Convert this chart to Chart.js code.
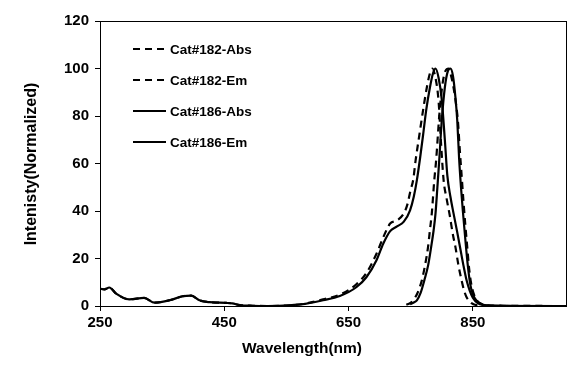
<!DOCTYPE html>
<html>
<head>
<meta charset="utf-8">
<script src="https://cdn.jsdelivr.net/npm/chart.js@4/dist/chart.umd.min.js"></script>
<style>
  html, body { margin:0; padding:0; background:#fff; }
  #wrap { width:587px; height:367px; position:relative; }
</style>
</head>
<body>
<div id="wrap"><canvas id="grafico"></canvas></div>
<script>
// series labels
const seriesLabels = ["Cat#182-Abs", "Cat#182-Em", "Cat#186-Abs", "Cat#186-Em"];

// Cat#182 absorbance (dashed)
const abs182Nm  = [250,257,265,276,297,321,338,362,383,397,410,426,453,463,475,496,520,555,580,609,636,663,679,695,706,717,728,739,745,750,754,758,764,770,776,781,785,790,795,799,803,808,813,818,822,827,832,836,840,848,858,875,920,1000];
const abs182Val = [7.3,7.0,7.8,5.2,2.8,3.4,1.4,2.4,4.1,4.4,2.4,1.6,1.3,1.1,0.4,0.1,0.0,0.3,1.0,2.8,4.8,9.2,14,22,29,34.7,36,39,43,49,53,61.4,72,82.5,92,98,100,96,86,68,53,45,38,30,24.9,17,10.8,6.5,3.7,1.2,0.3,0.1,0,0];

// Cat#182 emission (dashed)
const em182Nm  = [743,749,754,761,768,773,778,781,784,788,791,796,801,806,811,815,819,823,826,829,832,835,838,841,844,847,851,856,865,880,1000];
const em182Val = [0.5,1.2,2.4,5.5,10.8,17,24.9,32,39,53,61.4,80,93,99,100,97,92,85,78,66,55,44,34,25,16,10,5.5,2.5,0.8,0.2,0];

// Cat#186 absorbance (solid)
const abs186Nm  = [250,257,265,276,297,321,338,362,383,397,410,426,453,463,475,496,520,555,580,609,636,663,679,695,706,717,728,739,749,755,760,765,770,775,781,786,790,795,800,805,809,814,819,825,830,835,840,845,850,858,870,885,920,1000];
const abs186Val = [7.3,7.0,7.8,5.2,2.8,3.4,1.4,2.4,4.1,4.4,2.4,1.6,1.3,1.1,0.4,0.1,0.0,0.3,0.9,2.4,4.2,8.0,12.2,19.3,26.3,31.5,33.5,35.5,40.3,46,53,62,72,82.5,92,98,100,96,87,70,55,46,39,31,24,17,10.8,6.5,3.5,1.2,0.3,0.1,0,0];

// Cat#186 emission (solid)
const em186Nm  = [749,755,760,766,772,778,783,787,790,793,796,800,805,810,814,818,822,825,828,831,834,838,842,846,850,856,865,880,1000];
const em186Val = [0.7,1.5,2.4,5.5,10.8,17,24.9,32,39,50,61.4,78,92,99,100,97,88,78,62,50,40,28,17,9,5,2.2,0.6,0.1,0];

// axis ticks
const xTicks = [250, 450, 650, 850];
const yTicks = [0, 20, 40, 60, 80, 100, 120];

const FONT = "'Liberation Sans', Arial, sans-serif";

function toPoints(xs, ys) {
  return xs.map((x, i) => ({ x, y: ys[i] }));
}

function serie(label, xs, ys, dashed) {
  return {
    label,
    data: toPoints(xs, ys),
    borderColor: "#000",
    backgroundColor: "#000",
    borderWidth: 2.2,
    borderDash: dashed ? [7, 5] : [],
    pointRadius: 0,
    cubicInterpolationMode: "monotone",
    fill: false
  };
}

const datasets = [
  serie(seriesLabels[0], abs182Nm, abs182Val, true),
  serie(seriesLabels[1], em182Nm, em182Val, true),
  serie(seriesLabels[2], abs186Nm, abs186Val, false),
  serie(seriesLabels[3], em186Nm, em186Val, false)
];

// frame, legend and axis titles
const extras = {
  id: "extras",
  afterDraw(chart) {
    const ctx = chart.ctx;
    const a = chart.chartArea;
    ctx.save();
    ctx.strokeStyle = "#000";
    ctx.lineWidth = 1;
    ctx.strokeRect(Math.round(a.left) + 0.5, Math.round(a.top) + 0.5, Math.round(a.right - a.left), Math.round(a.bottom - a.top));

    // legend inside plot
    ctx.font = "bold 13.5px " + FONT;
    ctx.textBaseline = "middle";
    ctx.fillStyle = "#000";
    chart.data.datasets.forEach((ds, i) => {
      const y = 49 + i * 31;
      ctx.beginPath();
      ctx.lineWidth = 2;
      ctx.setLineDash(ds.borderDash);
      ctx.moveTo(133, y);
      ctx.lineTo(166, y);
      ctx.stroke();
      ctx.setLineDash([]);
      ctx.textAlign = "left";
      ctx.fillText(ds.label, 170, y + 1);
    });

    // axis titles
    ctx.textAlign = "center";
    ctx.textBaseline = "alphabetic";
    ctx.font = "bold 15.5px " + FONT;
    ctx.fillText("Wavelength(nm)", 302, 353);
    ctx.font = "bold 16px " + FONT;
    ctx.translate(36, 164);
    ctx.rotate(-Math.PI / 2);
    ctx.fillText("Intenisty(Normalized)", 0, 0);
    ctx.restore();
  }
};

new Chart(document.getElementById("grafico").getContext("2d"), {
  type: "line",
  data: { datasets },
  options: {
    responsive: true,
    maintainAspectRatio: false,
    animation: false,
    layout: { padding: { top: 21, right: 21, left: 0, bottom: 0 } },
    plugins: { legend: { display: false }, tooltip: { enabled: false } },
    scales: {
      x: {
        type: "linear",
        min: 250, max: 1000,
        afterBuildTicks: s => { s.ticks = xTicks.map(v => ({ value: v })); },
        afterFit: s => { s.height = 61; },
        grid: { drawOnChartArea: false, tickLength: 5, color: "#000" },
        border: { color: "#000", width: 1 },
        ticks: { color: "#000", font: { family: FONT, size: 15, weight: "bold" }, padding: 3, maxRotation: 0 }
      },
      y: {
        min: 0, max: 120,
        afterBuildTicks: s => { s.ticks = yTicks.map(v => ({ value: v })); },
        afterFit: s => { s.width = 100; },
        grid: { drawOnChartArea: false, tickLength: 5, color: "#000" },
        border: { color: "#000", width: 1 },
        ticks: { color: "#000", font: { family: FONT, size: 15, weight: "bold" }, padding: 6 }
      }
    }
  },
  plugins: [extras]
});
</script>
</body>
</html>
